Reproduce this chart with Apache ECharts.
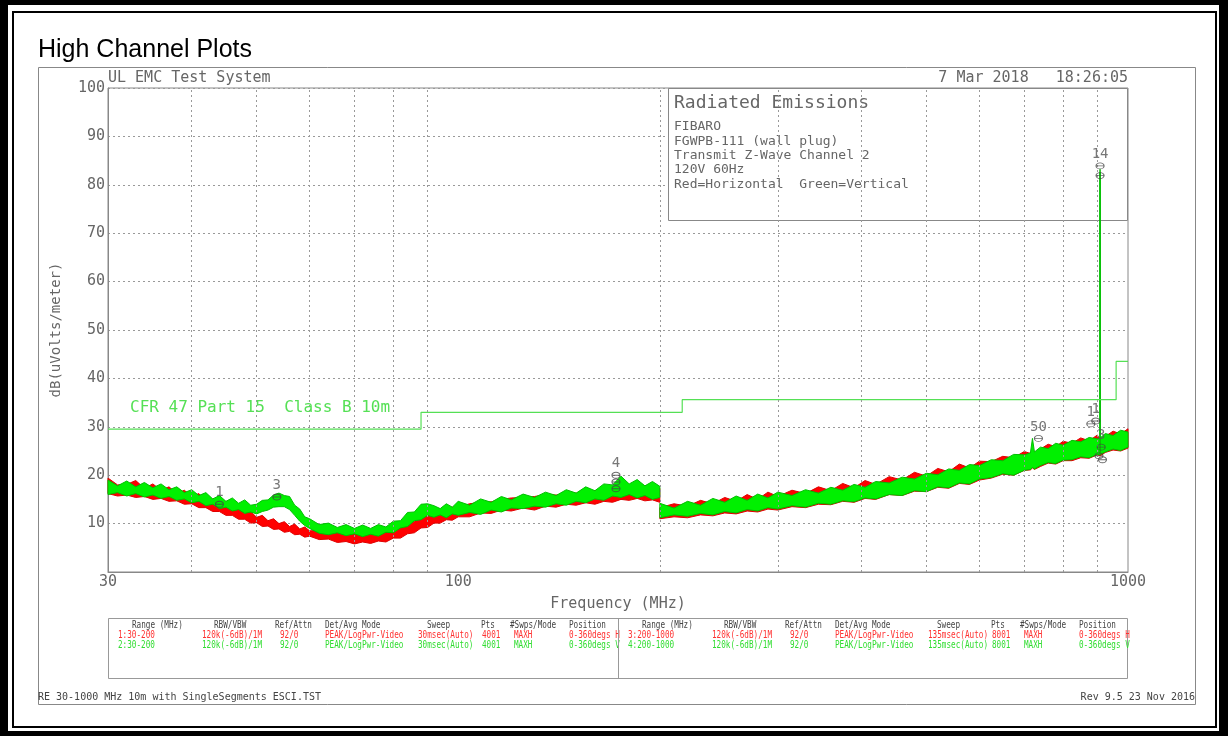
<!DOCTYPE html>
<html><head><meta charset="utf-8">
<script src="https://cdn.jsdelivr.net/npm/echarts@6.0.0/dist/echarts.min.js"></script>
<style>html,body{margin:0;padding:0;background:#fff}#c{width:1228px;height:736px}</style>
</head><body><div id="c"></div>
<script>
// ---------- DATA ----------
const xTickFreqs = [40, 50, 60, 70, 80, 90, 200, 300, 400, 500, 600, 700, 800, 900];

const limitFreq = [30, 88, 88, 216, 216, 960, 960, 1000];
const limitVal  = [29.5, 29.5, 33.0, 33.0, 35.6, 35.6, 43.5, 43.5];

// Range 30-200 MHz (max-hold envelope: upper / lower edge of each trace)
const freqLow = [30,31,32,33,34,35,36,37,38,39,40,41,42,43,44,45,46,47,48,49,50,51,52,53,54,55,56,57,58,59,60,
  62,64,66,68,70,72,74,76,78,80,82,84,86,88,90,92,94,96,98,100,104,108,112,116,120,
  125,130,135,140,145,150,155,160,165,170,175,180,185,190,195,200];
const greenHiLow = [19.0,17.8,18.8,17.6,18.5,17.4,18.2,17.0,17.6,16.4,
  17.0,15.8,16.4,15.1,15.8,14.6,15.3,14.2,14.9,13.8,
  14.0,14.8,14.9,15.9,16.3,15.8,15.6,13.8,13.0,11.4,11.0,
  9.8,10.1,9.2,9.8,9.0,9.7,9.0,9.8,9.3,10.5,10.6,12.3,12.4,14.0,14.1,13.7,13.1,14.1,13.4,14.6,
  13.8,15.1,14.4,15.6,14.9,
  16.1,15.4,16.5,15.8,17.0,16.3,17.6,16.8,18.2,18.0,19.8,18.2,19.1,17.8,18.7,17.7];
const greenLoLow = [16.0,16.4,15.7,16.2,15.5,15.9,15.2,15.6,14.8,15.1,
  14.3,14.6,13.7,14.0,13.1,13.4,12.6,12.9,12.1,12.4,
  12.0,12.5,12.8,13.4,13.5,13.5,12.9,11.7,10.5,9.6,9.0,
  8.0,7.7,8.1,7.5,7.9,7.3,7.8,7.4,8.2,8.1,9.1,9.4,10.6,10.8,11.7,11.3,11.8,11.2,12.0,11.7,
  12.3,11.9,12.8,12.4,13.2,
  13.1,13.6,13.4,14.1,13.8,14.6,14.3,15.1,14.8,15.7,15.4,16.0,15.3,15.8,15.0,15.4];
const redHiLow = [19.4,18.0,18.1,18.9,17.3,18.2,16.9,17.6,16.2,16.9,
  15.6,16.2,14.7,15.1,13.8,14.2,12.8,13.4,12.1,12.5,
  11.3,11.7,10.6,11.0,10.0,10.4,9.4,9.9,8.9,9.3,8.5,
  8.6,7.9,8.1,7.6,7.9,7.4,8.0,7.6,8.3,8.3,9.2,9.4,10.5,10.8,11.8,11.9,12.6,12.7,13.4,13.4,
  14.1,14.4,14.5,15.0,15.3,
  15.4,15.6,16.0,15.9,16.1,16.3,16.3,16.8,16.8,17.4,17.4,18.1,17.2,17.8,16.8,17.3];
const redLoLow = [16.2,15.7,15.9,15.4,15.6,15.0,15.2,14.6,14.7,14.0,
  14.1,13.3,13.3,12.5,12.5,11.7,11.7,10.9,10.9,10.1,
  10.2,9.4,9.5,8.8,8.9,8.2,8.4,7.7,7.8,7.2,7.4,
  6.7,6.8,6.1,6.3,5.8,6.2,5.9,6.4,6.2,7.0,7.0,7.9,8.1,9.1,9.2,10.1,10.1,10.8,10.7,11.4,
  11.4,12.2,12.1,12.8,12.6,
  13.2,12.8,13.6,13.4,14.0,13.8,14.3,14.0,14.6,14.4,15.0,14.8,15.2,14.7,14.9,14.4];

// Range 200-1000 MHz
const freqHigh = [200,210,220,230,240,250,260,270,280,290,300,
  315,330,345,360,375,390,405,420,
  440,460,480,500,520,540,560,580,600,
  625,650,675,700,715,720,725,740,760,780,800,
  825,850,875,900,907.9,908.4,908.9,925,950,975,1000];
const greenHiHigh = [14.2,13.2,14.6,13.8,15.2,14.4,15.7,14.8,16.1,15.3,16.5,
  15.8,17.0,16.3,17.5,16.9,18.1,17.5,18.7,
  18.4,19.6,19.2,20.4,20.1,21.3,21.0,22.2,22.0,
  23.2,23.0,24.3,24.2,24.6,27.6,24.8,25.8,25.5,26.6,26.2,
  27.2,26.9,27.8,27.5,27.7,83.2,27.7,28.6,28.2,29.3,28.9];
const greenLoHigh = [11.2,11.8,11.5,12.1,11.8,12.5,12.2,12.9,12.6,13.3,13.0,
  13.7,13.4,14.2,14.0,14.7,14.5,15.3,15.1,
  16.0,15.8,16.8,16.6,17.6,17.4,18.4,18.2,19.2,
  19.5,20.3,20.0,21.0,21.2,21.6,21.3,22.0,22.6,22.4,23.1,
  23.2,23.8,23.6,24.3,24.2,82.6,24.3,24.8,25.4,25.1,25.8];
const redHiHigh = [13.3,14.1,13.6,14.8,14.1,15.4,14.6,16.0,15.0,16.5,15.6,
  16.9,16.2,17.6,16.8,18.3,17.4,18.9,18.1,
  19.7,19.0,20.6,19.8,21.4,20.7,22.3,21.5,22.9,
  22.8,23.9,23.6,24.9,24.5,25.0,24.6,25.4,26.4,25.9,27.0,
  26.6,27.7,27.1,28.3,27.4,27.3,27.4,28.0,29.1,28.5,29.6];
const redLoHigh = [11.0,11.4,11.2,11.8,11.6,12.2,12.0,12.6,12.4,13.0,12.8,
  13.5,13.3,14.0,13.9,14.6,14.4,15.2,15.0,
  16.0,15.8,16.7,16.6,17.5,17.3,18.3,18.1,19.0,
  19.4,20.2,20.0,21.0,21.1,21.5,21.2,21.8,22.5,22.3,23.0,
  23.0,23.6,23.5,24.2,24.0,24.1,24.0,24.7,25.2,25.0,25.6];

// Markers
const markerFreq  = [44, 53.6, 172, 172, 172, 735, 880, 895, 908.4, 908.4, 905, 912, 916];
const markerVal   = [14.0, 15.5, 20.0, 18.6, 17.2, 27.6, 30.6, 31.2, 83.9, 81.9, 24.0, 25.8, 23.2];
const markerLabel = ['1', '3', '4', '', '', '50', '1', '1', '14', '', '', '3', ''];

// Texts
const titleText = 'High Channel Plots';
const infoTitle = 'Radiated Emissions';
const infoLines = ['FIBARO', 'FGWPB-111 (wall plug)', 'Transmit Z-Wave Channel 2', '120V 60Hz', 'Red=Horizontal  Green=Vertical'];
const limitLabel = 'CFR 47 Part 15  Class B 10m';
const tableHeader = ['Range (MHz)', 'RBW/VBW', 'Ref/Attn', 'Det/Avg Mode', 'Sweep', 'Pts', '#Swps/Mode', 'Position'];
const tableRows = [
  ['1:30-200', '120k(-6dB)/1M', '92/0', 'PEAK/LogPwr-Video', '30msec(Auto)', '4001', 'MAXH', '0-360degs H'],
  ['2:30-200', '120k(-6dB)/1M', '92/0', 'PEAK/LogPwr-Video', '30msec(Auto)', '4001', 'MAXH', '0-360degs V'],
  ['3:200-1000', '120k(-6dB)/1M', '92/0', 'PEAK/LogPwr-Video', '135msec(Auto)', '8001', 'MAXH', '0-360degs H'],
  ['4:200-1000', '120k(-6dB)/1M', '92/0', 'PEAK/LogPwr-Video', '135msec(Auto)', '8001', 'MAXH', '0-360degs V']
];

// ---------- CHART ----------
const HP = "'DejaVu Sans Mono', monospace";
const TXT = '#666';
const GREEN = '#00f000', RED = '#ff0000', LIMIT = '#55e055';

function band(name, freqs, hi, lo, fill, stroke, z) {
  return {
    type: 'custom', name: name, z: z, silent: true,
    coordinateSystem: 'cartesian2d',
    data: freqs.map((f, i) => [f, hi[i], lo[i]]),
    encode: { x: 0, y: [1, 2] },
    renderItem: function (params, api) {
      if (params.dataIndex !== 0) return null;
      const top = freqs.map((f, i) => api.coord([f, hi[i]]));
      const bot = freqs.map((f, i) => api.coord([f, lo[i]])).reverse();
      return { type: 'polygon', shape: { points: top.concat(bot) },
        style: { fill: fill, stroke: stroke, lineWidth: 1 } };
    }
  };
}

const g = [];
// outer black frame
g.push({ type: 'rect', shape: { x: 0, y: 0, width: 1228, height: 5 }, style: { fill: '#000' }, z: 10 });
g.push({ type: 'rect', shape: { x: 0, y: 731, width: 1228, height: 5 }, style: { fill: '#000' }, z: 10 });
g.push({ type: 'rect', shape: { x: 0, y: 0, width: 8, height: 736 }, style: { fill: '#000' }, z: 10 });
g.push({ type: 'rect', shape: { x: 1219, y: 0, width: 9, height: 736 }, style: { fill: '#000' }, z: 10 });
g.push({ type: 'rect', shape: { x: 13, y: 12, width: 1203, height: 715 }, style: { fill: null, stroke: '#000', lineWidth: 2 }, z: 10 });
// page frame
g.push({ type: 'rect', shape: { x: 38.5, y: 67.5, width: 1157, height: 637 }, style: { fill: null, stroke: '#888', lineWidth: 1 }, z: 10 });
g.push({ type: 'text', x: 38, y: 50, style: { text: titleText, font: '25px "Liberation Sans", Arial, sans-serif', fill: '#000', textVerticalAlign: 'middle' }, z: 10 });
g.push({ type: 'text', x: 108, y: 78, style: { text: 'UL EMC Test System', font: '15px ' + HP, fill: TXT, textVerticalAlign: 'middle' }, z: 10 });
g.push({ type: 'text', x: 1128, y: 78, style: { text: '7 Mar 2018   18:26:05', font: '15px ' + HP, fill: TXT, textAlign: 'right', textVerticalAlign: 'middle' }, z: 10 });
// info box
g.push({ type: 'rect', shape: { x: 668.5, y: 88.5, width: 459, height: 132 }, style: { fill: '#fff', stroke: '#888', lineWidth: 1 }, z: 1 });
g.push({ type: 'text', x: 674, y: 103, style: { text: infoTitle, font: '18px ' + HP, fill: TXT, textVerticalAlign: 'middle' }, z: 1 });
infoLines.forEach((t, i) => g.push({ type: 'text', x: 674, y: 127 + i * 14.3, style: { text: t, font: '13px ' + HP, fill: TXT, textVerticalAlign: 'middle' }, z: 1 }));
// limit label
g.push({ type: 'text', x: 130, y: 408, style: { text: limitLabel, font: '16px ' + HP, fill: LIMIT, textVerticalAlign: 'middle' }, z: 10 });
// table
g.push({ type: 'rect', shape: { x: 108.5, y: 618.5, width: 1019, height: 60 }, style: { fill: null, stroke: '#999', lineWidth: 1 }, z: 10 });
g.push({ type: 'line', shape: { x1: 618.5, y1: 618.5, x2: 618.5, y2: 678.5 }, style: { stroke: '#999', lineWidth: 1 }, z: 11 });
const hdrX = [132, 214, 275, 325, 427, 481, 510, 569];
const rowX = [118, 202, 280, 325, 418, 482, 514, 569];
function smallText(x, y, t, color) {
  return { type: 'text', x: x, y: y, scaleX: 0.73, style: { text: t, font: '10.5px ' + HP, fill: color, textVerticalAlign: 'middle' }, z: 10 };
}
[0, 510].forEach(off => hdrX.forEach((x, i) => g.push(smallText(x + off, 625, tableHeader[i], '#444'))));
tableRows.forEach((row, r) => {
  const off = r < 2 ? 0 : 510;
  const y = r % 2 === 0 ? 635 : 645;
  const col = r % 2 === 0 ? '#ff3030' : '#30dd30';
  row.forEach((t, i) => g.push(smallText(rowX[i] + off, y, t, col)));
});
// footer
g.push({ type: 'text', x: 38, y: 697, style: { text: 'RE 30-1000 MHz 10m with SingleSegments ESCI.TST', font: '10px ' + HP, fill: '#444', textVerticalAlign: 'middle' }, z: 10 });
g.push({ type: 'text', x: 1195, y: 697, style: { text: 'Rev 9.5 23 Nov 2016', font: '10px ' + HP, fill: '#444', textAlign: 'right', textVerticalAlign: 'middle' }, z: 10 });

const markerPath = 'path://M0,3A4,3,0,1,0,8,3A4,3,0,1,0,0,3ZM0,3L8,3';

const option = {
  animation: false,
  backgroundColor: '#fff',
  grid: { left: 108, right: 100, top: 88, bottom: 164, show: true, borderColor: '#888', borderWidth: 1, backgroundColor: 'transparent' },
  xAxis: {
    type: 'log', logBase: 10, min: 30, max: 1000,
    axisLine: { show: true, lineStyle: { color: '#888' } },
    axisTick: { show: false },
    splitLine: { show: false },
    axisLabel: { color: TXT, fontFamily: HP, fontSize: 15, margin: 3, formatter: v => String(Math.round(v)) },
    name: 'Frequency (MHz)', nameLocation: 'middle', nameGap: 25,
    nameTextStyle: { color: TXT, fontFamily: HP, fontSize: 15 }
  },
  yAxis: {
    type: 'value', min: 0, max: 100, interval: 10,
    axisLine: { show: true, lineStyle: { color: '#888' } },
    axisTick: { show: false },
    splitLine: { show: true, lineStyle: { color: '#999', type: [2, 3], width: 1 } },
    axisLabel: { color: TXT, fontFamily: HP, fontSize: 15, margin: 3, formatter: v => v === 0 ? '' : String(v) },
    name: 'dB(uVolts/meter)', nameLocation: 'middle', nameGap: 45, nameRotate: 90,
    nameTextStyle: { color: TXT, fontFamily: HP, fontSize: 14 }
  },
  graphic: { elements: g },
  series: [
    { type: 'line', z: 0.5, silent: true, data: [[30, -10]], symbol: 'none', lineStyle: { opacity: 0 },
      markLine: { silent: true, symbol: 'none', label: { show: false }, animation: false,
        lineStyle: { color: '#999', type: [2, 3], width: 1 },
        data: xTickFreqs.map(f => ({ xAxis: f })) } },
    band('redLow', freqLow, redHiLow, redLoLow, RED, '#e00000', 2),
    band('redHigh', freqHigh, redHiHigh, redLoHigh, RED, '#e00000', 2),
    band('greenLow', freqLow, greenHiLow, greenLoLow, GREEN, '#00c000', 3),
    band('greenHigh', freqHigh, greenHiHigh, greenLoHigh, GREEN, '#00c000', 3),
    { type: 'line', z: 4, silent: true, symbol: 'none', data: limitFreq.map((f, i) => [f, limitVal[i]]),
      lineStyle: { color: LIMIT, width: 1.2 } },
    { type: 'scatter', z: 5, silent: true, symbol: markerPath, symbolSize: [8, 6],
      itemStyle: { color: 'rgba(0,0,0,0)', borderColor: '#444', borderWidth: 1 },
      data: markerFreq.map((f, i) => [f, markerVal[i]]),
      label: { show: true, position: 'top', distance: 1, color: '#555', fontFamily: HP, fontSize: 14,
        formatter: p => markerLabel[p.dataIndex] } }
  ]
};
const chart = echarts.init(document.getElementById('c'), null, { renderer: 'canvas' });
chart.setOption(option);
</script></body></html>
